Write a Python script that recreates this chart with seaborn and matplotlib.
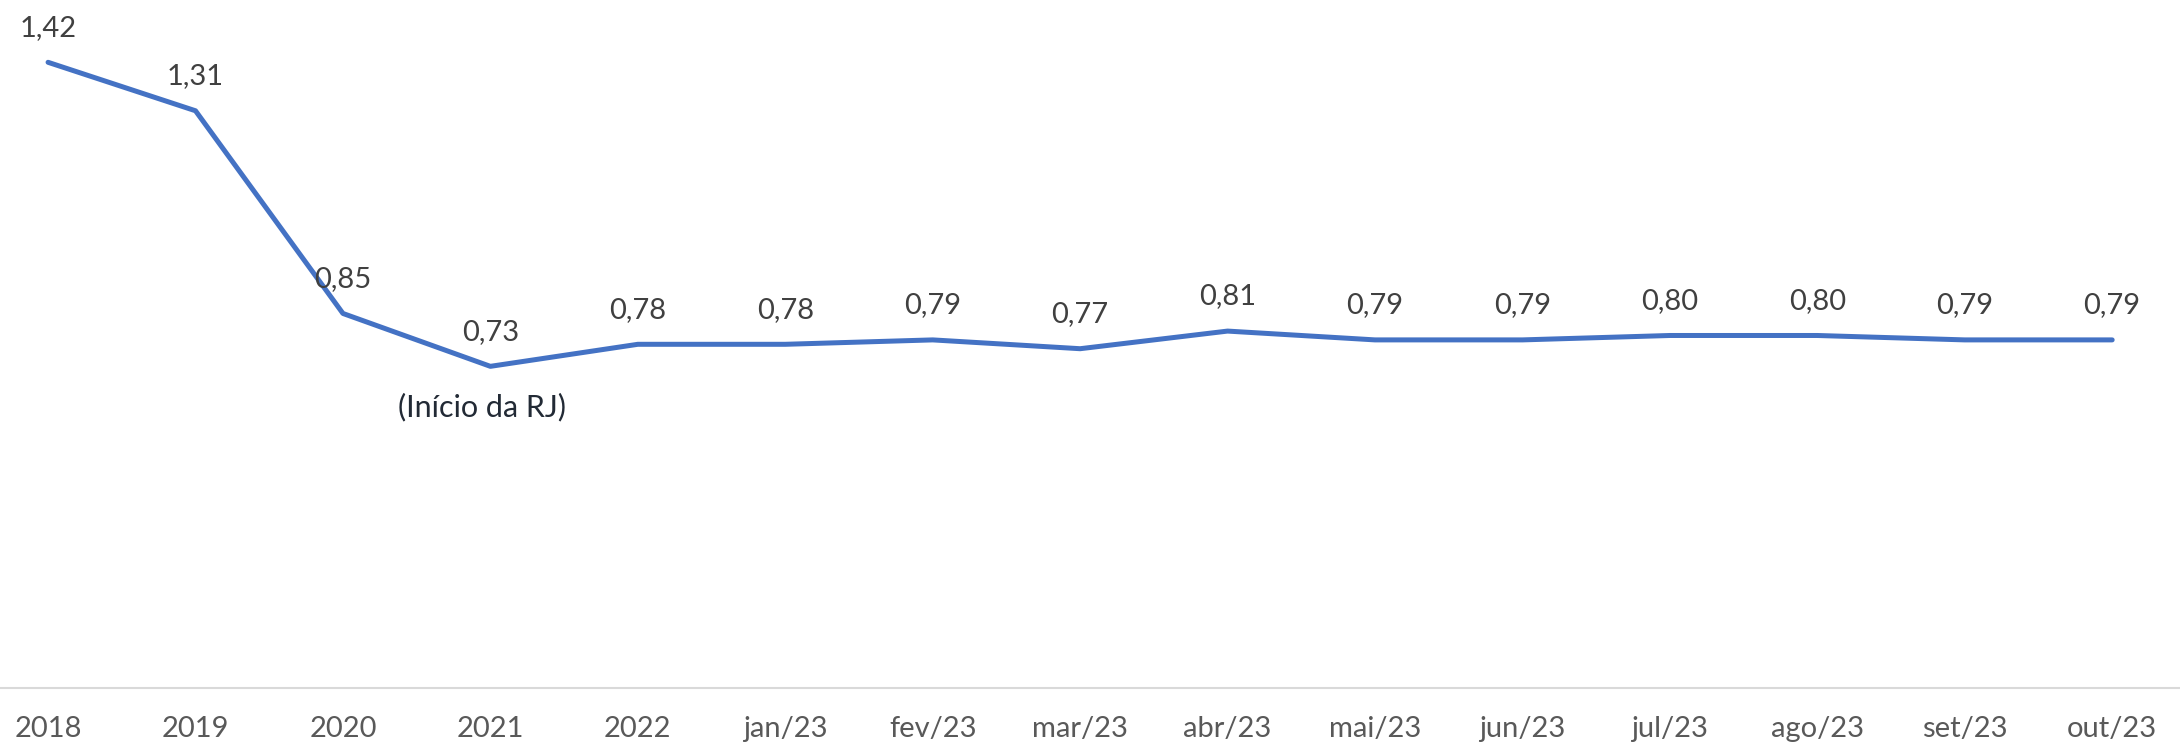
import pandas as pd
import matplotlib.pyplot as plt
import seaborn as sns

# dados do gráfico
periodos = ['2018', '2019', '2020', '2021', '2022', 'jan/23', 'fev/23', 'mar/23',
            'abr/23', 'mai/23', 'jun/23', 'jul/23', 'ago/23', 'set/23', 'out/23']
indice = [1.42, 1.31, 0.85, 0.73, 0.78, 0.78, 0.79, 0.77,
          0.81, 0.79, 0.79, 0.80, 0.80, 0.79, 0.79]
nota = '(Início da RJ)'

df = pd.DataFrame({'Periodo': periodos, 'Indice': indice})

sns.set_style('white')
plt.rcParams['font.family'] = ['Lato', 'DejaVu Sans']

fig = plt.figure(figsize=(21.8, 7.47), dpi=100)
ax = fig.add_axes([0, 0.079, 1, 0.921])

sns.lineplot(data=df, x='Periodo', y='Indice', sort=False, ax=ax,
             color='#4472C4', linewidth=3.6)
ax.lines[0].set_solid_joinstyle('round')
ax.lines[0].set_solid_capstyle('round')

# rótulos dos valores
for i, v in enumerate(df['Indice']):
    ax.annotate(f'{v:.2f}'.replace('.', ','), (i, v), xytext=(0, 25),
                textcoords='offset points', ha='center', va='center',
                fontsize=21, color='#404040')

ax.text(2.94, 0.638, nota, ha='center', va='center', fontsize=22, color='#222A35')

ax.set_xlim(-0.326, 14.46)
ax.set_ylim(0, 1.5614)
ax.set_xlabel('')
ax.set_ylabel('')
ax.set_yticks([])
ax.tick_params(axis='x', length=0, pad=20, labelsize=21, labelcolor='#595959')
for s in ['top', 'left', 'right']:
    ax.spines[s].set_visible(False)
ax.spines['bottom'].set_color('#D9D9D9')
ax.spines['bottom'].set_linewidth(1.5)

plt.savefig('out.png', dpi=100)
